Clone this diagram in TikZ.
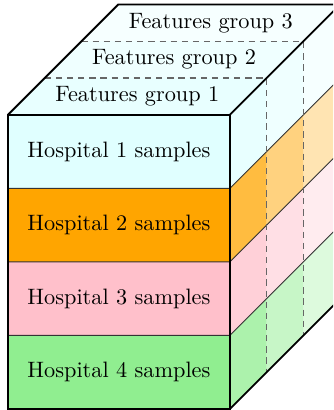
\documentclass[tikz,border=0pt]{standalone}
\usepackage{tikz}
\definecolor{hospone}{HTML}{E0FFFF}
\definecolor{hosptwo}{HTML}{FFA500}
\definecolor{hospthree}{HTML}{FFC0CB}
\definecolor{hospfour}{HTML}{90EE90}
\begin{document}
\begin{tikzpicture}
        \clip (-0.126,-0.016) rectangle (5.126,6.45);
        \coordinate (a) at (0,0);
        \coordinate (b) at (3.5,0);
        \coordinate (c) at (3.5,4.64);
        \coordinate (d) at (0,4.64);
        \coordinate (e) at (5.24,1.74);
        \coordinate (f) at (5.24,6.38);
        \coordinate (g) at (1.74,6.38);

        % Side face, fading with depth.
        \foreach \col [count=\i from 0] in {hospfour,hospthree,hosptwo,hospone}
            \foreach \op [count=\j from 0] in {0.75,0.5,0.3}
                \fill[\col, fill opacity=\op] (3.5+0.58*\j,1.16*\i+0.58*\j) -- ++(0.58,0.58) -- ++(0,1.16) -- ++(-0.58,-0.58) -- cycle;

        % Top face.
        \foreach \op [count=\j from 0] in {0.75,0.5,0.3}
            \fill[hospone, fill opacity=\op] (0.58*\j,4.64+0.58*\j) -- ++(3.5,0) -- ++(0.58,0.58) -- ++(-3.5,0) -- cycle;

        % Front face.
        \fill[hospfour] (a) rectangle (3.5,1.16);
        \fill[hospthree] (0,1.16) rectangle (3.5,2.32);
        \fill[hosptwo] (0,2.32) rectangle (3.5,3.48);
        \fill[hospone] (0,3.48) rectangle (c);

        \foreach \k in {1,2,3}
            \draw[black!80] (0,1.16*\k) -- (3.5,1.16*\k) -- ++(1.74,1.74); % Row edges.

        \foreach \j in {1,2}
            \draw[black!60, line width=0.6pt, dash pattern=on 2.8pt off 2.2pt] (0.58*\j,4.64+0.58*\j) -- (3.5+0.58*\j,4.64+0.58*\j) -- (3.5+0.58*\j,0.58*\j); % Group edges.

        \draw[thick] (a) -- (b) -- (c) -- (d) -- cycle;
        \draw[thick] (d) -- (g) -- (f) -- (c);
        \draw[thick] (b) -- (e) -- (f);

        \node (h1) at (1.75,4.06) {Hospital 1 samples};
        \node (h2) at (1.75,2.90) {Hospital 2 samples};
        \node (h3) at (1.75,1.74) {Hospital 3 samples};
        \node (h4) at (1.75,0.58) {Hospital 4 samples};
        \node (fg1) at (2.04,4.93) {Features group 1};
        \node (fg2) at (2.62,5.51) {Features group 2};
        \node (fg3) at (3.20,6.09) {Features group 3};
    \end{tikzpicture}
\end{document}
